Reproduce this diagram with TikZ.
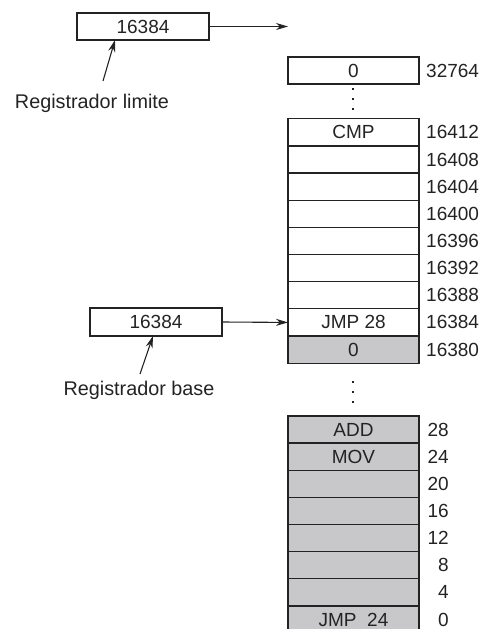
\documentclass[tikz,border=0pt]{standalone}
\usepackage{fontspec}
\setmainfont{Liberation Sans}
\usetikzlibrary{arrows.meta}
\definecolor{ink}{RGB}{35,35,35}
\definecolor{cellgray}{RGB}{200,200,202}
\tikzset{
  cell/.style={draw=ink, line width=1.25pt, minimum width=131pt, minimum height=27.15pt,
    inner sep=0pt, outer sep=0pt, text=ink, font=\fontsize{19}{22}\selectfont},
  graycell/.style={cell, fill=cellgray},
  reg/.style={draw=ink, line width=1.25pt, minimum width=132pt, minimum height=28pt,
    inner sep=0pt, outer sep=0pt, text=ink, font=\fontsize{19}{22}\selectfont},
  addr/.style={text=ink, inner sep=0pt, font=\fontsize{19}{22}\selectfont},
  lbl/.style={text=ink, inner sep=0pt, font=\fontsize{19.8}{23}\selectfont},
  arr/.style={draw=ink, line width=1.1pt, -{Stealth[length=12pt,width=7pt]}},
  dotmark/.style={fill=ink, minimum size=2.4pt, inner sep=0pt, outer sep=0pt}
}
\begin{document}
\begin{tikzpicture}[x=1pt,y=-1pt]
\useasboundingbox (0,0) rectangle (489,629);
% limit register
\node[reg, minimum height=27pt] (lim) at (143,26.5) {16384};
\coordinate (limend) at (288,26.5);
\draw[arr] (lim.east) -- (limend);
\node[lbl] (limlbl) at (92,103) {Registrador limite};
\coordinate (limfoot) at (103,81);
\draw[arr] (limfoot) -- (115,40);
% top cell
\node[cell] (top) at (353.5,70.5) {0};
\node[addr, anchor=west] (atop) at (426,70.5) {32764};
\node[dotmark] (d1) at (353,89) {};
\node[dotmark] (d2) at (353,99) {};
\node[dotmark] (d3) at (353,109) {};
% upper block
\def\h{27.15}
\foreach \t/\a [count=\i from 0] in {CMP/16412, /16408, /16404, /16400, /16396, /16392, /16388, JMP 28/16384}{
  \node[cell] (u\i) at (353.5,{118.8+\h/2+\i*\h}) {\t};
  \node[addr, anchor=west] (ua\i) at (426,{118.8+\h/2+\i*\h}) {\a};
}
\node[graycell] (u8) at (353.5,{118.8+\h/2+8*\h}) {0};
\node[addr, anchor=west] (ua8) at (426,{118.8+\h/2+8*\h}) {16380};
% base register
\node[reg] (base) at (156,322) {16384};
\draw[arr] (base.east) -- (u7.west);
\node[lbl] (baselbl) at (139,390) {Registrador base};
\coordinate (basefoot) at (140,374);
\draw[arr] (basefoot) -- (153,336);
\node[dotmark] (d4) at (353,382) {};
\node[dotmark] (d5) at (353,392) {};
\node[dotmark] (d6) at (353,402) {};
% lower block
\foreach \t/\a [count=\i from 0] in {ADD/28, MOV/24, /20, /16, /12, /8, /4, JMP\ \ 24/0}{
  \node[graycell] (l\i) at (353.5,{415.9+\h/2+\i*\h}) {\t};
  \node[addr, anchor=east] (la\i) at (449,{415.9+\h/2+\i*\h}) {\a};
}
\end{tikzpicture}
\end{document}
